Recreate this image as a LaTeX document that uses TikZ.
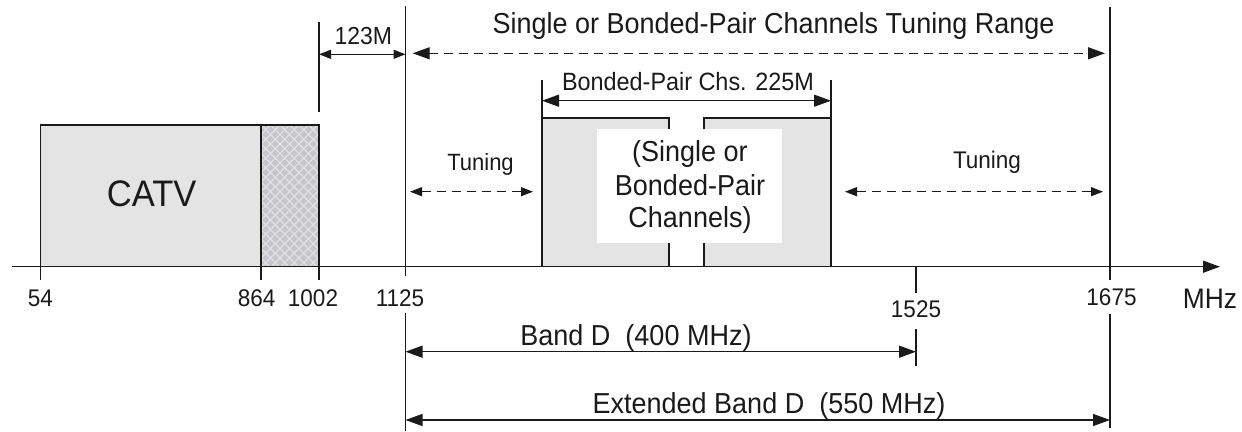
\documentclass[tikz,border=0pt]{standalone}
\usepackage{fontspec}
\setmainfont{Liberation Sans}
\usetikzlibrary{arrows.meta}
\definecolor{boxgray}{HTML}{E4E4E4}
\definecolor{hatchgray}{HTML}{C6C6C6}
\definecolor{hatchline}{HTML}{E0E0E8}
\definecolor{ink}{HTML}{1A1A1A}
\newcommand{\tallt}[1]{\scalebox{1}[1.07]{#1}}
\tikzset{
  ln/.style={draw=ink, line width=1.35pt},
  bigtip/.style={-{Triangle[length=17pt,width=12pt]}},
  bigboth/.style={{Triangle[length=17pt,width=12pt]}-{Triangle[length=17pt,width=12pt]}},
  smallboth/.style={{Triangle[length=12pt,width=9pt]}-{Triangle[length=12pt,width=9pt]}},
  dashln/.style={dash pattern=on 9pt off 6pt},
  num/.style={anchor=base, inner sep=0pt, font=\fontsize{22.5}{27}\selectfont, text=ink},
  lbl/.style={anchor=base, inner sep=0pt, font=\fontsize{23}{28}\selectfont, text=ink},
  big/.style={anchor=base, inner sep=0pt, font=\fontsize{27}{33}\selectfont, text=ink},
}
\begin{document}
\begin{tikzpicture}[x=1pt,y=-1pt]
\useasboundingbox (0,0) rectangle (1242,431);
% coordinates
\coordinate (axL) at (12,266.7);
\coordinate (axR) at (1220,266.7);
\coordinate (c54t) at (40.7,125);   \coordinate (c54b) at (40.7,280);
\coordinate (c864t) at (261,125);   \coordinate (c864b) at (261,280);
\coordinate (c1002t) at (319,125);  \coordinate (c1002b) at (319,280);
\coordinate (c1002u) at (319,21.7); \coordinate (c1002v) at (319,111.7);
\coordinate (c1125u) at (405.5,6);  \coordinate (c1125v) at (405.5,276);
\coordinate (c1125w) at (405.5,313); \coordinate (c1125x) at (405.5,431);
\coordinate (c1675u) at (1110,7);   \coordinate (c1675v) at (1110,280);
\coordinate (c1675w) at (1110,314); \coordinate (c1675x) at (1110,428);
\coordinate (c1525a) at (916,266.7); \coordinate (c1525b) at (916,293);
\coordinate (c1525c) at (916,329);  \coordinate (c1525d) at (916,366);
\coordinate (bpL) at (542,80); \coordinate (bpR) at (831,80);

% CATV box
\fill[boxgray] (c54t) rectangle (c864b |- axL);
\begin{scope}
  \clip (c864t) rectangle (c1002t |- axL);
  \fill[hatchgray] (c864t) rectangle (c1002t |- axL);
  \foreach \i in {-17,...,25} {
    \draw[hatchline, line width=1.1pt] ({261+\i*9.5},125) -- ++(170,170);
    \draw[hatchline, line width=1.1pt] ({261+\i*9.5},125) -- ++(-170,170);
  }
\end{scope}
\draw[ln] (c54b) -- (c54t) -- (c1002t) -- (c1002b);
\draw[ln] (c864t) -- (c864b);
\node[font=\fontsize{34.5}{40}\selectfont, anchor=base, inner sep=0pt, text=ink] (catv) at (151.7,206.7) {\tallt{CATV}};

% channel boxes
\fill[boxgray] (542,118) rectangle (669,266.7);
\fill[boxgray] (704,118) rectangle (831,266.7);
\draw[ln] (542,266.7) -- (542,118) -- (669,118) -- (669,266.7);
\draw[ln] (704,266.7) -- (704,118) -- (831,118) -- (831,266.7);
\fill[white] (597,129) rectangle (782,243);
\node[big] (in1) at (690,161.5) {\tallt{(Single or}};
\node[big] (in2) at (690,195) {\tallt{Bonded-Pair}};
\node[big] (in3) at (690,227.5) {\tallt{Channels)}};

% bonded-pair dimension
\draw[ln] (bpL) -- (542,118);
\draw[ln] (bpR) -- (831,118);
\coordinate (bpa) at (542,100.7); \coordinate (bpb) at (831,100.7);
\draw[ln, bigboth] (bpa) -- (bpb);
\node[lbl, font=\fontsize{23.4}{28}\selectfont] (bplbl) at (688,90) {\tallt{Bonded-Pair Chs. 225M}};

% axis
\draw[ln, bigtip] (axL) -- (axR);

% vertical lines
\draw[ln] (c1002u) -- (c1002v);
\draw[ln] (c1125u) -- (c1125v);
\draw[ln] (c1125w) -- (c1125x);
\draw[ln] (c1675u) -- (c1675v);
\draw[ln] (c1675w) -- (c1675x);
\draw[ln] (c1525a) -- (c1525b);
\draw[ln] (c1525c) -- (c1525d);

% 123M
\coordinate (m1) at (319,54.3); \coordinate (m2) at (405.5,54.3);
\draw[ln, smallboth] (m1) -- (m2);
\node[lbl] (m123) at (363.3,44.3) {\tallt{123M}};

% tuning range
\coordinate (tr1) at (412.7,53.3); \coordinate (tr2) at (1105,53.3);
\draw[ln, bigboth, dashln] (tr1) -- (tr2);
\node[big] (title) at (773.5,33.5) {\tallt{Single or Bonded-Pair Channels Tuning Range}};

% tuning arrows
\coordinate (ta1) at (410,191.7); \coordinate (ta2) at (533,191.7);
\coordinate (tb1) at (845,191.7); \coordinate (tb2) at (1103,191.7);
\draw[ln, smallboth, dashln] (ta1) -- (ta2);
\draw[ln, smallboth, dashln] (tb1) -- (tb2);
\node[lbl, font=\fontsize{22}{26}\selectfont] (tun1) at (480.5,170) {\tallt{Tuning}};
\node[lbl, font=\fontsize{22.5}{26}\selectfont] (tun2) at (987,168.3) {\tallt{Tuning}};

% numbers
\node[num] (n54) at (40.4,306.5) {\tallt{54}};
\node[num] (n864) at (256.7,306.5) {\tallt{864}};
\node[num] (n1002) at (313,306.5) {\tallt{1002}};
\node[num] (n1125) at (400,306) {\tallt{1125}};
\node[num] (n1525) at (916,317) {\tallt{1525}};
\node[num] (n1675) at (1111.5,305) {\tallt{1675}};
\node[anchor=base, inner sep=0pt, font=\fontsize{26.4}{30}\selectfont, text=ink] (mhz) at (1210,308) {\tallt{MHz}};

% band D
\coordinate (bd1) at (405.5,351.7); \coordinate (bd2) at (916,351.7);
\draw[ln, bigboth] (bd1) -- (bd2);
\node[big] (bdl) at (636,345) {\tallt{Band D\ \ (400 MHz)}};
\coordinate (ed1) at (405.5,420); \coordinate (ed2) at (1110,420);
\draw[ln, bigboth] (ed1) -- (ed2);
\node[big] (edl) at (769,413) {\tallt{Extended Band D\ \ (550 MHz)}};
\end{tikzpicture}
\end{document}
